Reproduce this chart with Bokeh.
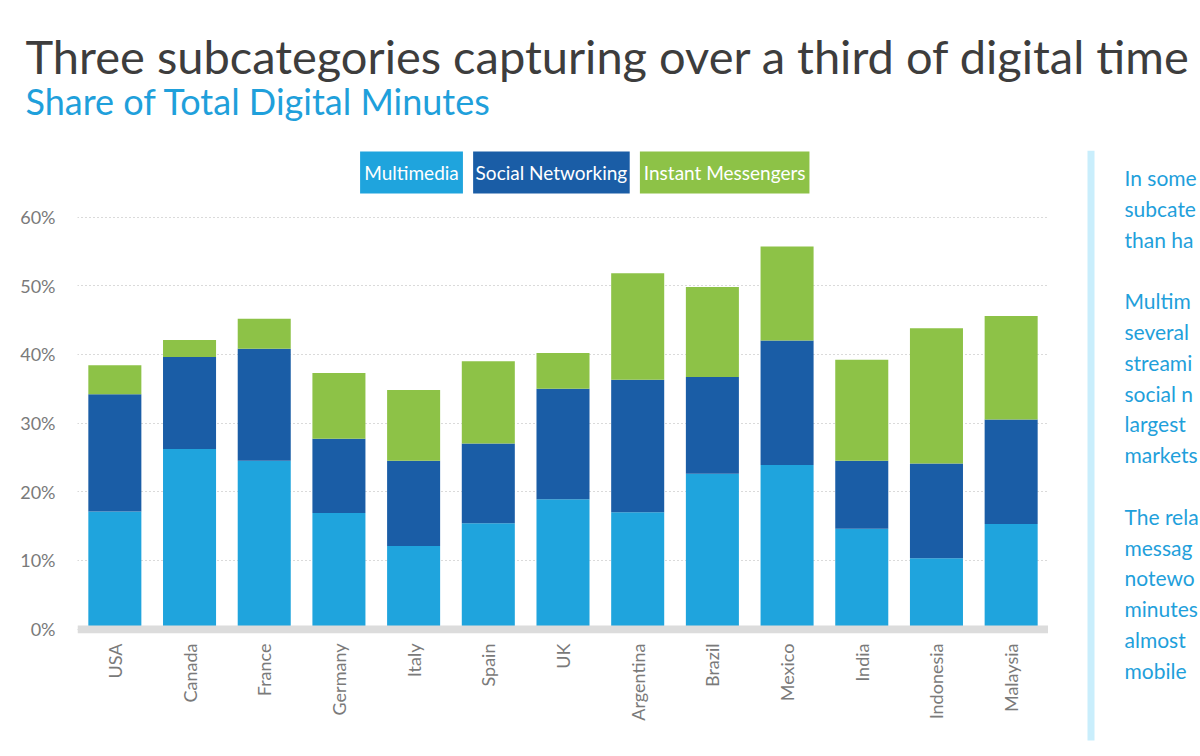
from bokeh.plotting import figure
from bokeh.models import (FactorRange, Range1d, FixedTicker, PrintfTickFormatter,
                          Label, BoxAnnotation, ColumnDataSource)
from bokeh.layouts import column, row
from bokeh.embed import file_html
from bokeh.resources import INLINE
from math import pi

# ---------------- data ----------------
countries = ["USA", "Canada", "France", "Germany", "Italy", "Spain", "UK",
             "Argentina", "Brazil", "Mexico", "India", "Indonesia", "Malaysia"]
multimedia = [17.1, 26.2, 24.5, 16.9, 12.1, 15.4, 18.9, 17.0, 22.6, 23.9, 14.6, 10.3, 15.3]
social_networking = [17.1, 13.4, 16.3, 10.8, 12.4, 11.6, 16.1, 19.3, 14.1, 18.1, 9.9, 13.8, 15.2]
instant_messengers = [4.2, 2.5, 4.4, 9.6, 10.3, 12.0, 5.2, 15.5, 13.1, 13.7, 14.7, 19.7, 15.1]
series = ["Multimedia", "Social Networking", "Instant Messengers"]
colors = ["#1fa4dd", "#1a5da6", "#8dc247"]
y_ticks = [0, 10, 20, 30, 40, 50, 60]

title_text = "Three subcategories capturing over a third of digital time"
subtitle_text = "Share of Total Digital Minutes"
# side note, as much of it as is visible (it runs off the right edge)
side_lines = ["In some", "subcate", "than ha", "",
              "Multim", "several", "streami", "social n", "largest", "markets", "",
              "The rela", "messag", "notewo", "minutes", "almost", "mobile"]

FONT = "Lato"
BLUE_TEXT = "#1fa0db"


def text_canvas(w, h):
    f = figure(width=w, height=h, x_range=Range1d(0, w), y_range=Range1d(h, 0),
               output_backend="svg", toolbar_location=None, min_border=0,
               x_axis_type=None, y_axis_type=None)
    f.outline_line_color = None
    f.background_fill_color = "white"
    f.border_fill_color = "white"
    return f


# ---------------- header (title + subtitle) ----------------
head = text_canvas(1200, 150)
head.add_layout(Label(x=25, y=55, text=title_text, text_font=FONT, text_font_size="47px",
                      text_color="#3d3d3d", text_baseline="alphabetic"))
head.add_layout(Label(x=25, y=100, text=subtitle_text, text_font=FONT, text_font_size="36px",
                      text_color=BLUE_TEXT, text_baseline="alphabetic"))

# ---------------- legend strip ----------------
leg = text_canvas(1048, 49)
box_edges = [(305, 416), (427, 596), (607, 790)]
for name, col, (l, r) in zip(series, colors, box_edges):
    leg.add_layout(BoxAnnotation(left=l, right=r, top=1, bottom=43, fill_color=col,
                                 fill_alpha=1.0, line_color=None))
    leg.add_layout(Label(x=(l + r) / 2, y=22, text=name, text_font=FONT,
                         text_font_size="19px", text_color="white",
                         text_align="center", text_baseline="middle"))

# ---------------- main chart ----------------
src = ColumnDataSource(data=dict(country=countries, Multimedia=multimedia,
                                 **{"Social Networking": social_networking,
                                    "Instant Messengers": instant_messengers}))

chart = figure(width=1048, height=557,
               x_range=FactorRange(factors=countries, range_padding=0),
               y_range=Range1d(-0.655, 62.55),
               output_backend="svg", toolbar_location=None,
               min_border_left=77, min_border_right=0,
               min_border_top=0, min_border_bottom=123)
chart.outline_line_color = None
chart.background_fill_color = "white"
chart.border_fill_color = "white"

chart.vbar_stack(series, x="country", width=0.71, source=src,
                 fill_color=colors, line_color=None)

chart.add_layout(BoxAnnotation(bottom=-0.655, top=0.5, fill_color="#dcdcdc",
                               fill_alpha=1.0, line_color=None))

chart.xgrid.grid_line_color = None
chart.ygrid.ticker = FixedTicker(ticks=y_ticks)
chart.ygrid.grid_line_color = "#b5b5b5"
chart.ygrid.grid_line_dash = "1 3"
chart.ygrid.grid_line_width = 1

chart.yaxis.ticker = FixedTicker(ticks=y_ticks)
chart.yaxis.formatter = PrintfTickFormatter(format="%d%%")
for ax in (chart.xaxis[0], chart.yaxis[0]):
    ax.axis_line_color = None
    ax.major_tick_line_color = None
    ax.minor_tick_line_color = None
    ax.major_tick_out = 0
    ax.major_tick_in = 0
    ax.major_label_text_font = FONT
    ax.major_label_text_font_size = "18px"
    ax.major_label_text_color = "#7a7a7a"
chart.yaxis.major_label_standoff = 22
chart.xaxis.major_label_orientation = pi / 2
chart.xaxis.major_label_standoff = 10

# ---------------- side note ----------------
side = text_canvas(152, 606)
side.add_layout(BoxAnnotation(left=39, right=46, top=0, bottom=590, fill_color="#c9eefc",
                              fill_alpha=1.0, line_color=None))
for i, line in enumerate(side_lines):
    if line:
        side.add_layout(Label(x=76, y=27 + i * 30.8, text=line, text_font=FONT,
                              text_font_size="21px", text_color=BLUE_TEXT,
                              text_baseline="middle"))

p = column(head, row(column(leg, chart), side))

open("out.html", "w").write(file_html(p, INLINE))
